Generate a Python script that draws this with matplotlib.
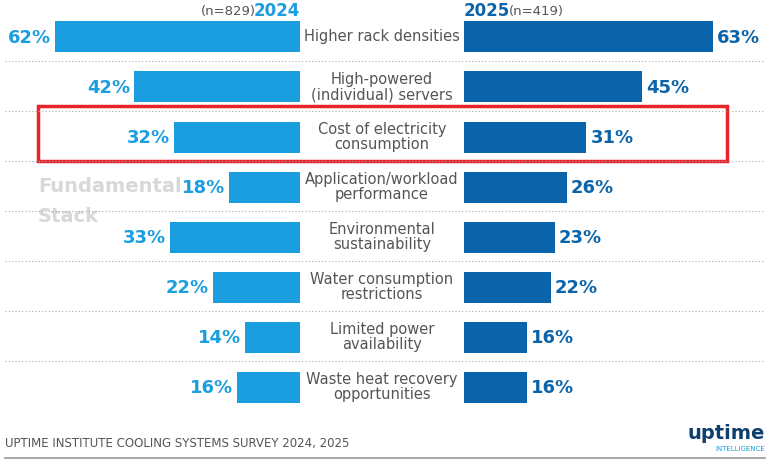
import matplotlib
matplotlib.use("Agg")
import matplotlib.pyplot as plt

categories = ["Higher rack densities", "High-powered\n(individual) servers", "Cost of electricity\nconsumption",
              "Application/workload\nperformance", "Environmental\nsustainability", "Water consumption\nrestrictions",
              "Limited power\navailability", "Waste heat recovery\nopportunities"]
v2024 = [62, 42, 32, 18, 33, 22, 14, 16]
v2025 = [63, 45, 31, 26, 23, 22, 16, 16]

C24 = "#1A9EDF"
C25 = "#0B64AA"
GRAY = "#555555"
S = 3.95
L0, R0 = 300, 464
ys = [37 + 50 * i for i in range(len(categories))]

fig = plt.figure(figsize=(7.75, 4.73), dpi=100)
ax = fig.add_axes([0, 0, 1, 1])
ax.set_xlim(0, 775); ax.set_ylim(473, 0); ax.axis("off")
fam = ["Roboto Condensed", "Liberation Sans Narrow", "DejaVu Sans"]

ax.barh(ys, [-v * S for v in v2024], left=L0, height=31, color=C24)
ax.barh(ys, [v * S for v in v2025], left=R0, height=31, color=C25)
for y, c, a, b in zip(ys, categories, v2024, v2025):
    ax.text(382, y, c, ha="center", va="center", fontsize=10.5, color=GRAY, linespacing=1.0)
    ax.text(L0 - a * S - 4, y + 1, f"{a}%", ha="right", va="center", fontsize=13, fontweight="bold", color=C24)
    ax.text(R0 + b * S + 4, y + 1, f"{b}%", ha="left", va="center", fontsize=13, fontweight="bold", color=C25)
for i in range(len(ys) - 1):
    yy = ys[i] + 24
    ax.plot([5, 765], [yy, yy], color="#aaaaaa", lw=0.8, ls=(0, (1, 2)))

ax.text(300, 11, "2024", ha="right", va="center", fontsize=12, fontweight="bold", color=C24)
ax.text(256, 11, "(n=829)", ha="right", va="center", fontsize=9.5, color=GRAY)
ax.text(464, 11, "2025", ha="left", va="center", fontsize=12, fontweight="bold", color=C25)
ax.text(509, 11, "(n=419)", ha="left", va="center", fontsize=9.5, color=GRAY)

ax.add_patch(plt.Rectangle((38, 106), 689, 55, fill=False, ec="#E8242B", lw=2.5))
ax.text(38, 186, "Fundamental", ha="left", va="center", fontsize=14, fontweight="bold", color="#d8d8d8", zorder=0)
ax.text(38, 216, "Stack", ha="left", va="center", fontsize=14, fontweight="bold", color="#d8d8d8", zorder=0)

ax.text(5, 443, "UPTIME INSTITUTE COOLING SYSTEMS SURVEY 2024, 2025", ha="left", va="center", fontsize=8.5, color=GRAY)
ax.text(765, 433, "uptime", ha="right", va="center", fontsize=14, fontweight="bold", color="#0E3F6E")
ax.text(765, 449, "INTELLIGENCE", ha="right", va="center", fontsize=5, color=C24)
ax.plot([5, 765], [458, 458], color="#999999", lw=1.2)

fig.savefig("out.png", dpi=100)
